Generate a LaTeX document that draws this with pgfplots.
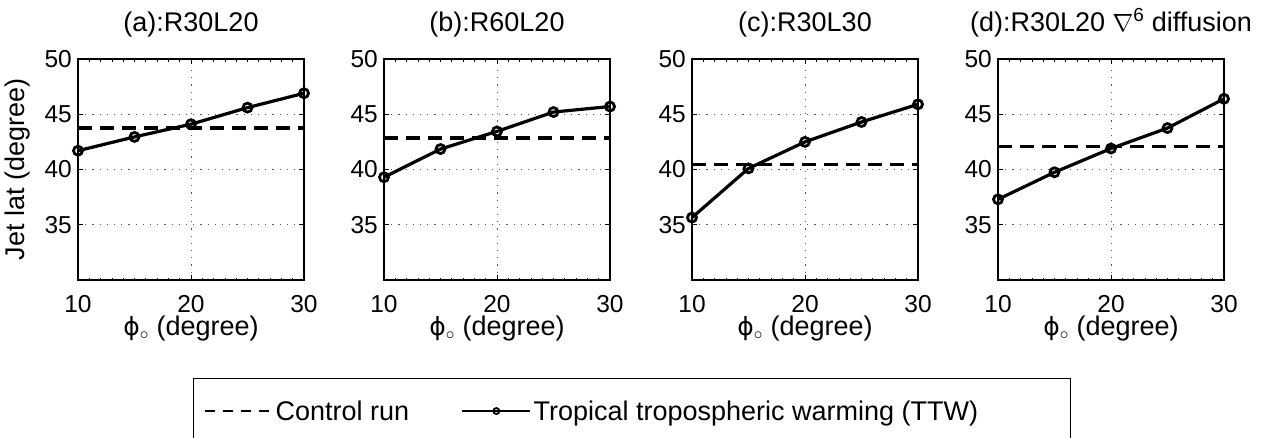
\documentclass[border=0pt]{standalone}
\usepackage{pgfplots}
\pgfplotsset{compat=1.18}
\usepackage{fontspec}
\setmainfont{Liberation Sans}
\newfontfamily\dejavu{DejaVu Sans}
\newcommand\fs{\fontsize{24.5}{29}\selectfont}
\newcommand\ft{\fontsize{27}{31}\selectfont}
\pgfplotsset{
  base/.style={
    scale only axis, width=226pt, height=221pt, anchor=north west,
    xmin=10, xmax=30, ymin=30, ymax=50,
    xtick={10,20,30}, ytick={35,40,45,50},
    minor x tick num=9,
    tick align=inside,
    major tick length=5pt, minor tick length=2.5pt,
    tick style={black, line width=0.8pt},
    axis line style={black, line width=1.1pt},
    grid=major,
    major grid style={black!65, line width=0.7pt, dash pattern=on 1.2pt off 6pt},
    minor grid style={draw=none},
    /pgf/number format/assume math mode=true,
    tick label style={font=\fs, inner sep=0pt},
    xticklabel shift=15pt, yticklabel shift=6pt,
    title style={font=\ft, inner sep=0pt, at={(axis description cs:0.5,1)}, anchor=base, yshift=22pt},
    xlabel style={font=\ft, inner sep=0pt, at={(axis description cs:0.5,-0.252)}, anchor=base},
    ylabel style={font=\ft, inner sep=0pt, at={(axis description cs:-0.2655,0.5)}, anchor=center},
    xlabel={{\dejavu\fontsize{25}{30}\selectfont ϕ}$_{\circ}$ (degree)},
  },
  ctrl/.style={black, line width=3.2pt, dash pattern=on 14pt off 8pt,
    legend image code/.code={\draw[line width=2pt, dash pattern=on 10pt off 8pt] (0pt,0pt) -- (68pt,0pt);}},
  ttw/.style={black, line width=3.2pt, mark=o, mark size=4.5pt,
    mark options={fill=white, line width=2.8pt, solid},
    legend image code/.code={\draw[line width=2.5pt, mark repeat=2, mark phase=2, mark size=3pt, mark options={line width=1.8pt, fill=white}] plot coordinates {(0pt,0pt)(34pt,0pt)(68pt,0pt)};}},
}
\begin{document}
\begin{tikzpicture}
\useasboundingbox (0,0) rectangle (1267pt,-437pt);
\clip (0,0) rectangle (1267pt,-437pt);
\begin{axis}[base, at={(78pt,-59pt)}, title={(a):R30L20}, ylabel={Jet lat (degree)},
  legend columns=2, legend cell align=left,
  legend style={at={(axis description cs:0.509,-0.4435)}, anchor=north west,
    draw=black, line width=1pt, font=\ft, inner xsep=10pt, inner ysep=20pt,
    /tikz/every even column/.append style={column sep=50pt}}]
\addplot[ctrl] coordinates {(10,43.75)(30,43.75)};
\addplot[ttw] coordinates {(10,41.7)(15,42.95)(20,44.1)(25,45.6)(30,46.9)};
\legend{Control run, \makebox[525pt][l]{Tropical tropospheric warming (TTW)}}
\end{axis}
\begin{axis}[base, at={(384pt,-59pt)}, title={(b):R60L20}]
\addplot[ctrl] coordinates {(10,42.85)(30,42.85)};
\addplot[ttw] coordinates {(10,39.3)(15,41.85)(20,43.45)(25,45.2)(30,45.7)};
\end{axis}
\begin{axis}[base, at={(692pt,-59pt)}, title={(c):R30L30}]
\addplot[ctrl] coordinates {(10,40.45)(30,40.45)};
\addplot[ttw] coordinates {(10,35.65)(15,40.1)(20,42.5)(25,44.3)(30,45.9)};
\end{axis}
\begin{axis}[base, at={(998pt,-59pt)}, title={(d):R30L20 $\nabla$\textsuperscript{6} diffusion}]
\addplot[ctrl] coordinates {(10,42.1)(30,42.1)};
\addplot[ttw] coordinates {(10,37.3)(15,39.75)(20,41.9)(25,43.75)(30,46.4)};
\end{axis}
\end{tikzpicture}
\end{document}
